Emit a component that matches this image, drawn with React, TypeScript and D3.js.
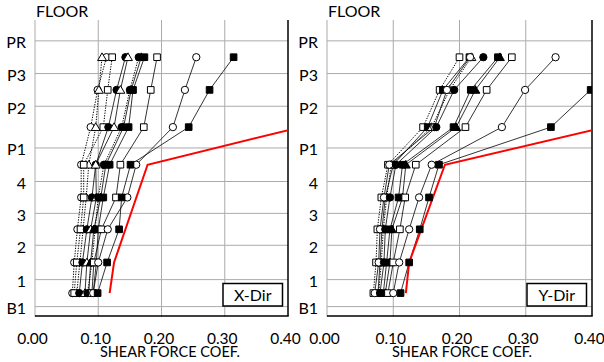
import React, { useEffect, useRef } from 'react';
import * as d3 from 'd3';

// floors (grid lines) and their elevations
const floorNames = ['B1', '1', '2', '3', '4', 'P1', 'P2', 'P3', 'PR'];
const floorLevels = [0, 3.3, 7.5, 11.4, 15.3, 19.4, 24.5, 28.5, 32.5];
// stories, bottom to top (markers sit mid-story)
const stories = ['B1', '1', '2', '3', '4', 'P1', 'P2', 'P3'];
const xTicks = [0, 0.1, 0.2, 0.3, 0.4];

// X-Dir series, values per story B1 -> P3
const xDirMarkers = ['circleOpen', 'triangleOpen', 'squareOpen', 'circleFill', 'triangleOpen', 'circleFill', 'triangleFill', 'squareFill', 'squareOpen', 'circleOpen', 'squareFill'];
const xDirDotted = [true, true, true, false, false, true, false, false, false, false, false];
const xDirValues = [
  [0.059, 0.062, 0.067, 0.073, 0.073, 0.088, 0.099, 0.113],
  [0.066, 0.071, 0.076, 0.081, 0.085, 0.096, 0.101, 0.106],
  [0.062, 0.066, 0.072, 0.077, 0.077, 0.108, 0.115, 0.122],
  [0.070, 0.075, 0.082, 0.090, 0.096, 0.116, 0.129, 0.143],
  [0.079, 0.082, 0.088, 0.097, 0.096, 0.125, 0.135, 0.147],
  [0.083, 0.090, 0.095, 0.100, 0.109, 0.137, 0.150, 0.164],
  [0.085, 0.088, 0.093, 0.104, 0.112, 0.140, 0.152, 0.168],
  [0.092, 0.097, 0.100, 0.108, 0.118, 0.148, 0.155, 0.173],
  [0.090, 0.093, 0.105, 0.128, 0.135, 0.172, 0.183, 0.193],
  [0.092, 0.100, 0.115, 0.146, 0.160, 0.218, 0.237, 0.255],
  [0.099, 0.114, 0.133, 0.137, 0.151, 0.243, 0.276, 0.314],
];

// Y-Dir series
const yDirMarkers = ['squareOpen', 'squareFill', 'triangleOpen', 'circleOpen', 'circleFill', 'squareFill', 'triangleFill', 'squareOpen', 'circleOpen', 'squareFill'];
const yDirDotted = [true, false, true, false, false, false, false, false, false, false];
const yDirValues = [
  [0.070, 0.074, 0.076, 0.082, 0.092, 0.145, 0.170, 0.200],
  [0.077, 0.080, 0.083, 0.088, 0.100, 0.152, 0.175, 0.215],
  [0.078, 0.082, 0.085, 0.090, 0.097, 0.158, 0.185, 0.218],
  [0.072, 0.078, 0.080, 0.086, 0.094, 0.162, 0.181, 0.216],
  [0.080, 0.086, 0.088, 0.095, 0.104, 0.165, 0.192, 0.236],
  [0.085, 0.090, 0.095, 0.108, 0.114, 0.191, 0.217, 0.258],
  [0.088, 0.095, 0.098, 0.114, 0.119, 0.195, 0.224, 0.261],
  [0.092, 0.100, 0.110, 0.118, 0.134, 0.209, 0.241, 0.279],
  [0.100, 0.109, 0.124, 0.139, 0.158, 0.264, 0.299, 0.345],
  [0.111, 0.124, 0.140, 0.154, 0.169, 0.338, 0.398, null],
];

// design (red) line
const designStories = ['B1', '1', '4', 'P1'];
const xDirDesign = [0.118, 0.125, 0.178, 0.42];
const yDirDesign = [0.119, 0.124, 0.178, 0.42];

const FONT = 'Lato, "DejaVu Sans", sans-serif';

function App() {
  const ref = useRef(null);

  useEffect(() => {
    const svg = d3.select(ref.current);
    svg.selectAll('*').remove();

    const y = d3.scaleLinear().domain([-1.15, 35.05]).range([316, 20]);
    const storyY = (s) => {
      const i = stories.indexOf(s);
      return y((floorLevels[i] + floorLevels[i + 1]) / 2);
    };

    const panels = [
      { id: 'px', x0: 35, x1: 288, label: 'X-Dir', values: xDirValues, markers: xDirMarkers, dotted: xDirDotted, design: xDirDesign },
      { id: 'py', x0: 327, x1: 592, label: 'Y-Dir', values: yDirValues, markers: yDirMarkers, dotted: yDirDotted, design: yDirDesign },
    ];

    panels.forEach(p => {
      const x = d3.scaleLinear().domain([0, 0.4]).range([p.x0, p.x1]);
      const g = svg.append('g');

      g.append('clipPath').attr('id', 'clip-' + p.id)
        .append('rect')
        .attr('x', p.x0).attr('y', 20)
        .attr('width', p.x1 - p.x0).attr('height', 296);

      // grid
      g.selectAll('.hgrid').data(floorLevels).join('line')
        .attr('x1', p.x0).attr('x2', p.x1)
        .attr('y1', d => y(d)).attr('y2', d => y(d))
        .attr('stroke', '#ababab').attr('stroke-width', 1);
      g.selectAll('.vgrid').data(xTicks.slice(0, 4)).join('line')
        .attr('x1', d => x(d)).attr('x2', d => x(d))
        .attr('y1', 20).attr('y2', 317)
        .attr('stroke', '#ababab').attr('stroke-width', 1);
      // borders
      g.append('line').attr('x1', p.x0).attr('x2', p.x1 + 0.7).attr('y1', 316).attr('y2', 316)
        .attr('stroke', '#000').attr('stroke-width', 1.5);
      g.append('line').attr('x1', p.x1).attr('x2', p.x1).attr('y1', 20).attr('y2', 316)
        .attr('stroke', '#000').attr('stroke-width', 1.5);

      // tick labels
      g.selectAll('.xt').data(xTicks).join('text')
        .attr('x', d => x(d) - 2.5).attr('y', 343.5)
        .attr('text-anchor', 'middle')
        .style('font-family', FONT).style('font-size', '15.5px').attr('fill', '#000')
        .text(d => d.toFixed(2));
      g.selectAll('.yt').data(floorNames).join('text')
        .attr('x', p.x0 - 9).attr('y', (d, i) => y(floorLevels[i]) + 7.5)
        .attr('text-anchor', 'end')
        .style('font-family', FONT).style('font-size', '16px').attr('fill', '#000')
        .text(d => d);
      g.append('text')
        .attr('x', p.x0 + 1).attr('y', 17)
        .style('font-family', FONT).style('font-size', '16px')
        .text('FLOOR');
      g.append('text')
        .attr('x', p.x0 + 135).attr('y', 357)
        .attr('text-anchor', 'middle')
        .style('font-family', FONT).style('font-size', '14.5px')
        .text('SHEAR FORCE COEF.');

      const plot = g.append('g').attr('clip-path', `url(#clip-${p.id})`);

      const line = d3.line()
        .defined(d => d.v !== null)
        .x(d => x(d.v))
        .y(d => storyY(d.s));

      // series lines
      p.values.forEach((vals, k) => {
        const pts = vals.map((v, i) => ({ s: stories[i], v }));
        plot.append('path')
          .datum(pts)
          .attr('d', line)
          .attr('fill', 'none')
          .attr('stroke', '#000')
          .attr('stroke-width', p.dotted[k] ? 1 : 0.8)
          .attr('stroke-dasharray', p.dotted[k] ? '1.3,1.3' : null);
      });

      // design line
      plot.append('path')
        .datum(p.design.map((v, i) => ({ s: designStories[i], v })))
        .attr('d', line)
        .attr('fill', 'none')
        .attr('stroke', '#ff0000')
        .attr('stroke-width', 2);

      // markers
      p.values.forEach((vals, k) => {
        const m = p.markers[k];
        const fill = m.endsWith('Fill') ? '#000' : '#fff';
        const type = m.startsWith('circle') ? d3.symbolCircle : m.startsWith('square') ? d3.symbolSquare : d3.symbolTriangle;
        const size = m.startsWith('circle') ? 42 : m.startsWith('square') ? 44 : 34;
        const sym = d3.symbol().type(type).size(size);
        plot.selectAll(null)
          .data(vals.map((v, i) => ({ s: stories[i], v })).filter(d => d.v !== null && d.v <= 0.4))
          .join('path')
          .attr('transform', d => `translate(${x(d.v)},${storyY(d.s) + (type === d3.symbolTriangle ? 0.8 : 0)})`)
          .attr('d', sym)
          .attr('fill', fill)
          .attr('stroke', '#000')
          .attr('stroke-width', 1);
      });

      // direction box
      g.append('rect')
        .attr('x', p.x1 - 65).attr('y', 283.5)
        .attr('width', 59.5).attr('height', 22.5)
        .attr('fill', '#fff').attr('stroke', '#000').attr('stroke-width', 1.5);
      g.append('text')
        .attr('x', p.x1 - 35.3).attr('y', 300.5)
        .attr('text-anchor', 'middle')
        .style('font-family', FONT).style('font-size', '16px')
        .text(p.label);
    });
  });

  return (
    <svg ref={ref} width={604} height={362}
      style={{ position: 'absolute', left: 0, top: 0, background: '#fff' }} />
  );
}

export default App;
